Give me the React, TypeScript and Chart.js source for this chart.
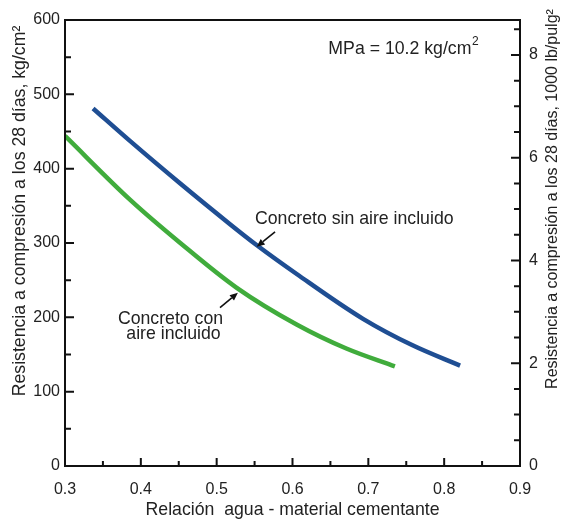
import React, { useEffect, useRef } from "react";
import { Chart, registerables } from "chart.js";

Chart.register(...registerables);

// ---- Data ----
const ratioSinAire = [0.337, 0.386, 0.452, 0.518, 0.553, 0.606, 0.693, 0.759, 0.821];
const strengthSinAire = [481, 437, 380, 325, 297, 258, 198, 162, 135];
const ratioConAire = [0.3, 0.386, 0.452, 0.526, 0.606, 0.671, 0.735];
const strengthConAire = [444, 358, 300, 240, 190, 158, 134];

const X_MIN = 0.3;
const X_MAX = 0.9;
const X_STEP = 0.1;
const Y_MIN = 0;
const Y_MAX = 600;
const Y_STEP = 100;
const Y2_MAX = 8.68;
const Y2_STEP = 2;

const xTitle = "Relación  agua - material cementante";
const yTitle = "Resistencia a compresión a los 28 días, kg/cm²";
const y2Title = "Resistencia a compresión a los 28 días, 1000 lb/pulg²";

const unitText = "MPa = 10.2 kg/cm";
const unitSup = "2";
const unitX = 0.746;
const unitY = 561;

const labelTexts = ["Concreto sin aire incluido", "Concreto con", "aire incluido"];
const labelX = [0.5505, 0.4391, 0.4431];
const labelY = [332, 198, 177];
const labelAlign: CanvasTextAlign[] = ["left", "center", "center"];

const arrowFromX = [0.577, 0.5044];
const arrowFromY = [315, 213];
const arrowToX = [0.5528, 0.528];
const arrowToY = [295, 233];

const BLUE = "#1f4e93";
const GREEN = "#40ac3c";
const TEXT = "#222222";
const FONT = "'Liberation Sans', Arial, Helvetica, sans-serif";

const decorPlugin = {
  id: "decor",
  afterDatasetsDraw(chart: any) {
    const { ctx, chartArea: a } = chart;
    const xs = chart.scales.x;
    const ys = chart.scales.y;
    const y2 = chart.scales.y2;
    ctx.save();
    // frame
    ctx.strokeStyle = "#111";
    ctx.lineWidth = 2;
    ctx.strokeRect(a.left, a.top, a.right - a.left, a.bottom - a.top);
    // ticks (inward)
    ctx.beginPath();
    for (let i = 0; i <= 12; i++) {
      const v = Y_MIN + i * (Y_STEP / 2);
      const py = ys.getPixelForValue(v);
      const len = i % 2 === 0 ? 9 : 6;
      ctx.moveTo(a.left, py);
      ctx.lineTo(a.left + len, py);
    }
    for (let i = 0; i <= 17; i++) {
      const v = i * 0.5;
      const py = y2.getPixelForValue(v);
      const len = i % 4 === 0 ? 9 : 6;
      ctx.moveTo(a.right, py);
      ctx.lineTo(a.right - len, py);
    }
    for (let i = 0; i <= 12; i++) {
      const v = X_MIN + i * (X_STEP / 2);
      const px = xs.getPixelForValue(v);
      const len = i % 2 === 0 ? 8 : 5;
      ctx.moveTo(px, a.bottom);
      ctx.lineTo(px, a.bottom - len);
    }
    ctx.stroke();

    // axis titles
    ctx.fillStyle = TEXT;
    ctx.textBaseline = "middle";
    ctx.textAlign = "center";
    ctx.font = `17.7px ${FONT}`;
    ctx.fillText(xTitle, (a.left + a.right) / 2, 510);

    ctx.save();
    ctx.font = `17.7px ${FONT}`;
    ctx.translate(20, 211);
    ctx.rotate(-Math.PI / 2);
    ctx.fillText(yTitle, 0, 0);
    ctx.restore();

    ctx.save();
    ctx.font = `16px ${FONT}`;
    ctx.translate(553, 199);
    ctx.rotate(-Math.PI / 2);
    ctx.fillText(y2Title, 0, 0);
    ctx.restore();

    // unit note with superscript
    ctx.font = `17.7px ${FONT}`;
    const mainW = ctx.measureText(unitText).width;
    ctx.font = `12px ${FONT}`;
    const supW = ctx.measureText(unitSup).width;
    const ux = xs.getPixelForValue(unitX) - (mainW + supW) / 2;
    const uy = ys.getPixelForValue(unitY);
    ctx.textAlign = "left";
    ctx.font = `17.7px ${FONT}`;
    ctx.fillText(unitText, ux, uy);
    ctx.font = `12px ${FONT}`;
    ctx.fillText(unitSup, ux + mainW + 0.5, uy - 7);

    // annotations
    ctx.font = `17.7px ${FONT}`;
    for (let i = 0; i < labelTexts.length; i++) {
      ctx.textAlign = labelAlign[i];
      ctx.fillText(labelTexts[i], xs.getPixelForValue(labelX[i]), ys.getPixelForValue(labelY[i]));
    }
    // arrows
    ctx.strokeStyle = "#111";
    ctx.fillStyle = "#111";
    ctx.lineWidth = 1.6;
    for (let i = 0; i < arrowFromX.length; i++) {
      const x1 = xs.getPixelForValue(arrowFromX[i]);
      const y1 = ys.getPixelForValue(arrowFromY[i]);
      const x2 = xs.getPixelForValue(arrowToX[i]);
      const y2p = ys.getPixelForValue(arrowToY[i]);
      const ang = Math.atan2(y2p - y1, x2 - x1);
      const head = 8;
      const hw = 3.5;
      const bx = x2 - head * Math.cos(ang);
      const by = y2p - head * Math.sin(ang);
      ctx.beginPath();
      ctx.moveTo(x1, y1);
      ctx.lineTo(bx, by);
      ctx.stroke();
      ctx.beginPath();
      ctx.moveTo(x2, y2p);
      ctx.lineTo(bx + hw * Math.sin(ang), by - hw * Math.cos(ang));
      ctx.lineTo(bx - hw * Math.sin(ang), by + hw * Math.cos(ang));
      ctx.closePath();
      ctx.fill();
    }
    ctx.restore();
  },
};

export default function App() {
  const canvasRef = useRef<HTMLCanvasElement | null>(null);

  useEffect(() => {
    if (!canvasRef.current) return;
    const tickFont = { family: FONT, size: 16 };
    const chart = new Chart(canvasRef.current, {
      type: "scatter",
      data: {
        datasets: [
          {
            label: "Concreto sin aire incluido",
            data: ratioSinAire.map((x, i) => ({ x, y: strengthSinAire[i] })),
            borderColor: BLUE,
            borderWidth: 4.5,
            showLine: true,
            pointRadius: 0,
            cubicInterpolationMode: "monotone",
            yAxisID: "y",
          },
          {
            label: "Concreto con aire incluido",
            data: ratioConAire.map((x, i) => ({ x, y: strengthConAire[i] })),
            borderColor: GREEN,
            borderWidth: 4.5,
            showLine: true,
            pointRadius: 0,
            cubicInterpolationMode: "monotone",
            yAxisID: "y",
          },
        ],
      },
      options: {
        animation: false,
        responsive: false,
        layout: { padding: { top: 20, right: 0, left: 0, bottom: 0 } },
        plugins: { legend: { display: false }, tooltip: { enabled: false } },
        scales: {
          x: {
            type: "linear",
            min: X_MIN,
            max: X_MAX,
            grid: { display: false, drawTicks: false },
            border: { display: false },
            ticks: {
              stepSize: X_STEP,
              font: tickFont,
              color: TEXT,
              padding: 14,
              maxRotation: 0,
              callback: (v: any) => Number(v).toFixed(1),
            },
            afterFit: (s: any) => {
              s.height = 55;
            },
          },
          y: {
            type: "linear",
            position: "left",
            min: Y_MIN,
            max: Y_MAX,
            grid: { display: false, drawTicks: false },
            border: { display: false },
            ticks: { stepSize: Y_STEP, font: tickFont, color: TEXT, padding: 5 },
            afterFit: (s: any) => {
              s.width = 65;
            },
          },
          y2: {
            type: "linear",
            position: "right",
            min: 0,
            max: Y2_MAX,
            grid: { display: false, drawTicks: false },
            border: { display: false },
            ticks: { stepSize: Y2_STEP, includeBounds: false, font: tickFont, color: TEXT, padding: 9 },
            afterFit: (s: any) => {
              s.width = 45;
            },
          },
        },
      },
      plugins: [decorPlugin],
    } as any);
    return () => chart.destroy();
  }, []);

  return (
    <div style={{ position: "absolute", left: 0, top: 0, width: 565, height: 521, background: "#fff" }}>
      <canvas ref={canvasRef} width={565} height={521} style={{ width: 565, height: 521 }} />
    </div>
  );
}
